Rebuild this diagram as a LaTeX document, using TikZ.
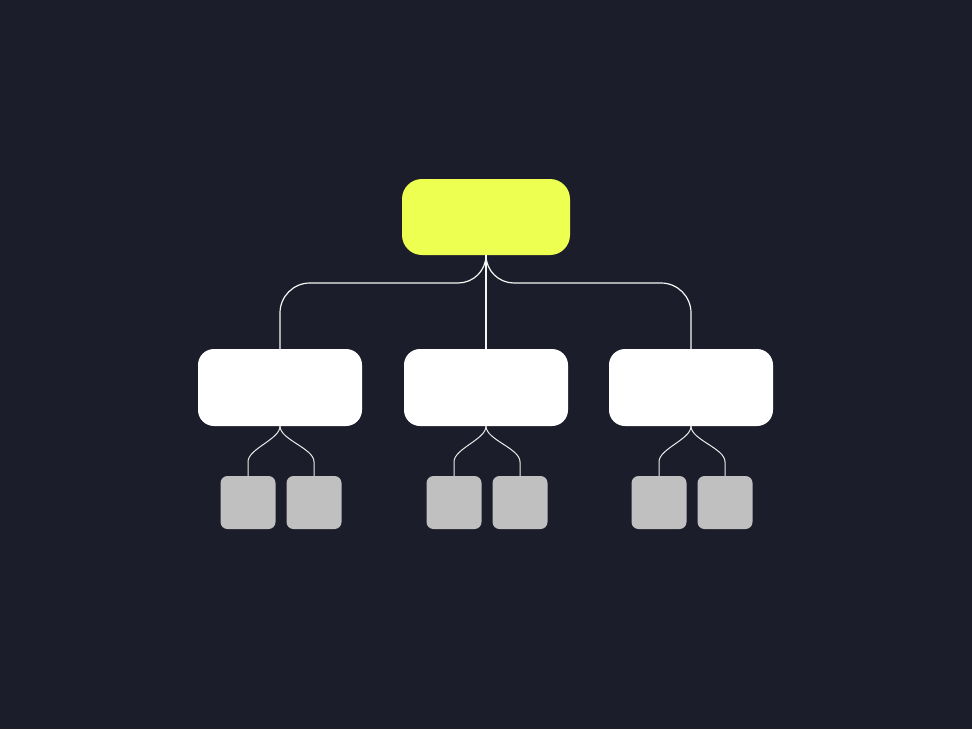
\documentclass[tikz,border=0pt]{standalone}
\usetikzlibrary{positioning}
\definecolor{bgdark}{HTML}{1C1D2B}
\definecolor{rootlime}{HTML}{EDFF50}
\definecolor{leafgray}{HTML}{C0C0C0}
\tikzset{
  rootbox/.style={fill=rootlime,rounded corners=20pt,minimum width=168pt,minimum height=76pt,inner sep=0pt},
  midbox/.style={fill=white,rounded corners=16pt,minimum width=164pt,minimum height=77pt,inner sep=0pt},
  leafbox/.style={fill=leafgray,rounded corners=7pt,minimum width=55pt,minimum height=53pt,inner sep=0pt},
  link/.style={draw=white!92!gray,line width=1.2pt},
  leaflink/.style={draw=white!85!gray,line width=1pt}
}
\begin{document}
\begin{tikzpicture}[x=1pt,y=-1pt]
  \fill[bgdark] (0,0) rectangle (972,729);
  \useasboundingbox (0,0) rectangle (972,729);

  \node[rootbox] (root) at (486,217) {};

  \foreach \n/\x in {1/280,2/486,3/691} {
    \node[midbox] (mid\n) at (\x,387.5) {};
    \node[leafbox] (leaf\n a) at ({\x-32},502.5) {};
    \node[leafbox] (leaf\n b) at ({\x+34},502.5) {};
    \draw[leaflink] (mid\n.south) to[out=-90,in=90,looseness=0.7] ([yshift=14pt]leaf\n a.north) -- (leaf\n a.north);
    \draw[leaflink] (mid\n.south) to[out=-90,in=90,looseness=0.7] ([yshift=14pt]leaf\n b.north) -- (leaf\n b.north);
  }

  \coordinate (hl) at (310,283);
  \coordinate (hr) at (661,283);
  \draw[link] (root.south) to[out=-90,in=0] (458,283) -- (hl)
    to[out=180,in=90] (280,313) -- (mid1.north);
  \draw[link] (root.south) -- (mid2.north);
  \draw[link] (root.south) to[out=-90,in=180] (514,283) -- (hr)
    to[out=0,in=90] (691,313) -- (mid3.north);
\end{tikzpicture}
\end{document}
